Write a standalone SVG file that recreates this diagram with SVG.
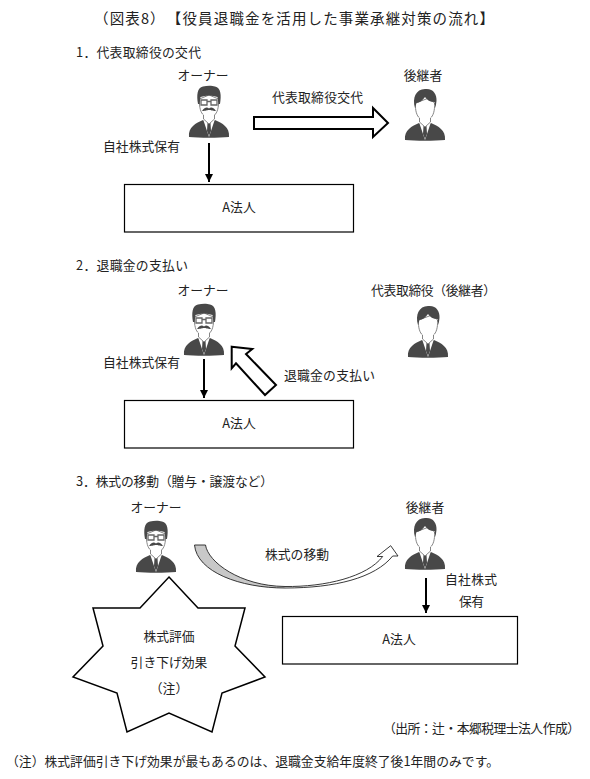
<svg xmlns="http://www.w3.org/2000/svg" width="590" height="779" viewBox="0 0 590 779">
<style>
text{font-family:"Noto Sans CJK JP","Noto Sans",sans-serif;font-size:12.800px;fill:#222}
.m{text-anchor:middle}
.box{fill:#fff;stroke:#000;stroke-width:1.200}
.thin{fill:none;stroke:#000;stroke-width:2}
.block{fill:#fff;stroke:#000;stroke-width:2;stroke-linejoin:miter}
.dark{fill:#484848}
.face{fill:#fff;stroke:#777;stroke-width:.9}
</style>
<defs>
<marker id="ah" markerUnits="userSpaceOnUse" markerWidth="9" markerHeight="9" refX="8" refY="4" orient="auto"><path d="M0 0L8 4L0 8Z" fill="#000"/></marker>
<linearGradient id="sweep" gradientUnits="userSpaceOnUse" x1="194" y1="0" x2="398" y2="0"><stop offset="0" stop-color="#c8c8c8"/><stop offset=".44" stop-color="#c8c8c8"/><stop offset=".45" stop-color="#fff"/><stop offset="1" stop-color="#fff"/></linearGradient>
<symbol id="owner" overflow="visible">
<path class="dark" d="M-20 50C-21 40-13 36-6 33L0 36L6 33C13 36 21 40 20 50C10 51-10 51-20 50Z"/>
<path fill="#fff" d="M-6 32L0 50L6 32L0 35Z"/>
<path class="dark" d="M-1.500 36H1.500L2 44L0 49L-2 44Z"/>
<path class="face" d="M-9.500 12C-10 21-8 26-5.500 28L-5.500 32L0 37L5.500 32L5.500 28C8 26 10 21 9.500 12L0 8Z"/>
<path class="dark" d="M-11 17C-12.500 8-12 1-6-.5C-2-1.500 3-1.500 6-.5C12 1 12.500 8 11 17L9.500 17L8.500 10C3 8-3 8-8.500 10L-9.500 17Z"/>
<path fill="none" stroke="#666" stroke-width="1.300" d="M-8 13H-2V18H-8ZM2 13H8V18H2ZM-2 14.500H2"/>
<path class="dark" d="M-7 24C-4 20-2 20 0 21.500C2 20 4 20 7 24C3 24 2 23 0 23C-2 23-3 24-7 24Z"/>
</symbol>
<symbol id="heir" overflow="visible">
<path class="dark" d="M-20 51C-21 41-13 37-6 34L0 37L6 34C13 37 21 41 20 51C10 52-10 52-20 51Z"/>
<path fill="#fff" d="M-6 33L0 51L6 33L0 36Z"/>
<path class="dark" d="M-1.500 37H1.500L2 45L0 50L-2 45Z"/>
<path class="face" d="M-9.500 14C-10 22-8 27-5.500 29L-5.500 33L0 38L5.500 33L5.500 29C8 27 10 22 9.500 14L4 9Z"/>
<path class="dark" d="M-10 19C-13 9-9 0 0 0C8-1 12 5 11.500 12L10.500 19L9.500 13C5 13 2 11 0 8C-2 11-6 14-8.500 14Z"/>
</symbol>
</defs>

<g id="title"><text x="94" y="24" textLength="400" style="font-size:14.500px">（図表8）　【役員退職金を活用した事業承継対策の流れ】</text></g>

<g id="section1"><text x="76" y="57" textLength="125">1．代表取締役の交代</text></g>
<g id="owner1"><text class="m" x="203" y="80">オーナー</text><use href="#owner" x="209" y="87"/></g>
<g id="heir1"><text class="m" x="423" y="80">後継者</text><use href="#heir" x="425" y="89"/></g>
<g id="holding1"><text x="103" y="151" textLength="77">自社株式保有</text></g>
<g id="corp1"><rect class="box" x="124.500" y="184.500" width="229" height="47.500"/><text class="m" x="239" y="212">A法人</text></g>
<g id="label1"><text x="272" y="102" textLength="91">代表取締役交代</text></g>

<g id="section2"><text x="76" y="270" textLength="112">2．退職金の支払い</text></g>
<g id="owner2"><text class="m" x="203" y="295">オーナー</text><use href="#owner" x="204" y="305"/></g>
<g id="heir2"><text x="371" y="295" textLength="125">代表取締役（後継者）</text><use href="#heir" x="428" y="306"/></g>
<g id="holding2"><text x="103" y="367" textLength="77">自社株式保有</text></g>
<g id="corp2"><rect class="box" x="124.500" y="400.500" width="229" height="47.500"/><text class="m" x="239" y="428">A法人</text></g>
<g id="label2"><text x="284" y="380" textLength="91">退職金の支払い</text></g>

<g id="section3"><text x="76" y="486" textLength="197">3．株式の移動（贈与・譲渡など）</text></g>
<g id="owner3"><text class="m" x="156" y="512">オーナー</text><use href="#owner" x="156" y="522"/></g>
<g id="heir3"><text class="m" x="425" y="512">後継者</text><use href="#heir" x="425" y="518"/></g>
<g id="holding3"><text x="445" y="584" textLength="52">自社株式</text><text x="459" y="606" textLength="25">保有</text></g>
<g id="corp3"><rect class="box" x="282.500" y="616.500" width="235" height="47.500"/><text class="m" x="399" y="644">A法人</text></g>
<g id="label3"><text x="265" y="559" textLength="64">株式の移動</text></g>

<g id="star">
<path class="box" style="stroke-width:1.500" d="M169 577L198 608H245L235 646L265 677L222 693L212 732L169 713L127 732L117 693L73 677L103 646L93 608H140Z"/>
<text class="m" x="169" y="641">株式評価</text>
<text class="m" x="169" y="667">引き下げ効果</text>
<text class="m" x="169" y="693">（注）</text>
</g>

<g id="source"><text x="383" y="733" textLength="197">（出所：辻・本郷税理士法人作成）</text></g>
<g id="note"><text x="6" y="766" textLength="493">（注）株式評価引き下げ効果が最もあるのは、退職金支給年度終了後1年間のみです。</text></g>

<g id="connectors">
<line class="thin" x1="209" y1="143" x2="209" y2="182" marker-end="url(#ah)"/>
<path class="block" d="M254 117H373V108L388 123L373 137V129H254Z"/>
<line class="thin" x1="204" y1="359" x2="204" y2="398" marker-end="url(#ah)"/>
<path class="block" d="M231.700 346.700L252.300 349L246 354L276 385L265 395L236 363.300L231.700 368.300Z"/>
<line class="thin" x1="426" y1="578" x2="426" y2="613" marker-end="url(#ah)"/>
<path fill="url(#sweep)" stroke="#222" stroke-width=".9" d="M194.500 545H205.500C208 562 240 586 285 586.500C325 587 367 577 382.700 556.500H377L390.700 545.700L398 556H392.700C375 578 335 588 285 588C240 588 197 572 194.500 545Z"/>
</g>
</svg>
